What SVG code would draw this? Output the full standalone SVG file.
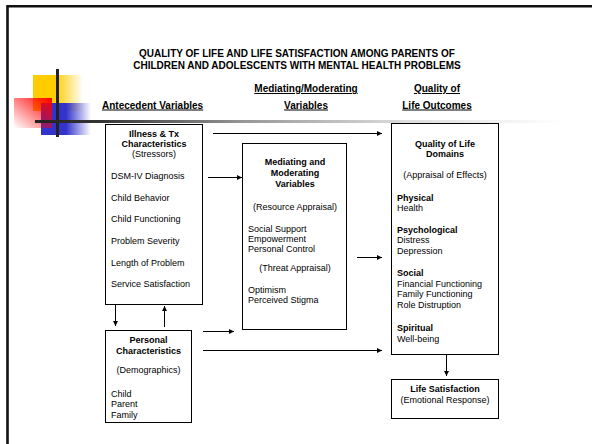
<svg xmlns="http://www.w3.org/2000/svg" width="592" height="444" viewBox="0 0 592 444">
<style>
text{font-family:"Liberation Sans",Arial,sans-serif;font-size:9px;fill:#000}
.b{font-weight:bold}
.c{text-anchor:middle}
.t{font-size:10px;font-weight:bold;text-anchor:middle}
.h{font-size:10px;font-weight:bold;text-decoration:underline}
.box{fill:#fff;stroke:#000;stroke-width:1}
.con line{stroke:#000;stroke-width:1;marker-end:url(#ah)}
</style>
<defs>
<marker id="ah" markerWidth="6" markerHeight="6" refX="5" refY="2.5" orient="auto" markerUnits="userSpaceOnUse">
<path d="M0,0 L5,2.5 L0,5 Z" fill="#000"/>
</marker>
<linearGradient id="gy" x1="0" y1="0" x2="1" y2="0">
<stop offset="0" stop-color="#FFCC00"/><stop offset="0.45" stop-color="#FFCC00"/><stop offset="1" stop-color="#FFCC00" stop-opacity="0"/>
</linearGradient>
<linearGradient id="gr" x1="1" y1="0" x2="0" y2="1">
<stop offset="0" stop-color="#FF0000"/><stop offset="1" stop-color="#FF0000" stop-opacity="0"/>
</linearGradient>
<linearGradient id="gb" x1="0" y1="0" x2="1" y2="0">
<stop offset="0" stop-color="#3333CC"/><stop offset="0.5" stop-color="#3333CC"/><stop offset="1" stop-color="#3333CC" stop-opacity="0"/>
</linearGradient>
<linearGradient id="gl" gradientUnits="userSpaceOnUse" x1="35" y1="0" x2="565" y2="0">
<stop offset="0" stop-color="#222"/><stop offset="0.12" stop-color="#333"/><stop offset="0.4" stop-color="#999"/><stop offset="0.7" stop-color="#ddd"/><stop offset="1" stop-color="#fff"/>
</linearGradient>
</defs>
<rect width="592" height="444" fill="#fff"/>
<path d="M7.5,444 V6.2 H592" fill="none" stroke="#111" stroke-width="2.6"/>
<g id="decoration">
<rect x="33" y="75" width="50" height="36" fill="url(#gy)"/>
<rect x="41" y="103" width="50" height="32" fill="url(#gb)"/>
<rect x="14" y="98" width="38" height="30" fill="url(#gr)"/>
<rect x="56" y="69" width="3" height="68" fill="#222"/>
<rect x="35" y="120" width="530" height="3" fill="url(#gl)"/>
</g>
<g id="title">
<text class="t" x="297" y="57">QUALITY OF LIFE AND LIFE SATISFACTION AMONG PARENTS OF</text>
<text class="t" x="297" y="69">CHILDREN AND ADOLESCENTS WITH MENTAL HEALTH PROBLEMS</text>
</g>
<g id="headings">
<text class="h" x="102" y="108.5">Antecedent Variables</text>
<text class="h c" x="306" y="92">Mediating/Moderating</text>
<text class="h c" x="306" y="108.5">Variables</text>
<text class="h c" x="437" y="92">Quality of</text>
<text class="h c" x="437" y="108.5">Life Outcomes</text>
</g>
<g id="illness">
<rect class="box" x="105.5" y="124.5" width="97" height="180"/>
<text class="b c" x="154" y="137">Illness &amp; Tx</text>
<text class="b c" x="154" y="147">Characteristics</text>
<text class="c" x="154" y="157">(Stressors)</text>
<text x="111" y="179">DSM-IV Diagnosis</text>
<text x="111" y="201">Child Behavior</text>
<text x="111" y="222">Child Functioning</text>
<text x="111" y="244">Problem Severity</text>
<text x="111" y="266">Length of Problem</text>
<text x="111" y="287">Service Satisfaction</text>
</g>
<g id="mediating">
<rect class="box" x="242.5" y="143.5" width="104" height="186"/>
<text class="b c" x="295" y="165">Mediating and</text>
<text class="b c" x="295" y="176">Moderating</text>
<text class="b c" x="295" y="187">Variables</text>
<text class="c" x="295" y="210">(Resource Appraisal)</text>
<text x="248" y="232">Social Support</text>
<text x="248" y="242">Empowerment</text>
<text x="248" y="251.5">Personal Control</text>
<text class="c" x="295" y="271">(Threat Appraisal)</text>
<text x="248" y="293">Optimism</text>
<text x="248" y="303">Perceived Stigma</text>
</g>
<g id="qol">
<rect class="box" x="391.5" y="123.5" width="107" height="231"/>
<text class="b c" x="445" y="147">Quality of Life</text>
<text class="b c" x="445" y="157">Domains</text>
<text class="c" x="445" y="178">(Appraisal of Effects)</text>
<text class="b" x="397" y="201">Physical</text>
<text x="397" y="211">Health</text>
<text class="b" x="397" y="233">Psychological</text>
<text x="397" y="243">Distress</text>
<text x="397" y="254">Depression</text>
<text class="b" x="397" y="276">Social</text>
<text x="397" y="287">Financial Functioning</text>
<text x="397" y="297">Family Functioning</text>
<text x="397" y="308">Role Distruption</text>
<text class="b" x="397" y="331">Spiritual</text>
<text x="397" y="342">Well-being</text>
</g>
<g id="personal">
<rect class="box" x="105.5" y="330.5" width="86" height="92"/>
<text class="b c" x="148.5" y="343">Personal</text>
<text class="b c" x="148.5" y="354">Characteristics</text>
<text class="c" x="148.5" y="373">(Demographics)</text>
<text x="111" y="397">Child</text>
<text x="111" y="407">Parent</text>
<text x="111" y="418">Family</text>
</g>
<g id="lifesat">
<rect class="box" x="391.5" y="379.5" width="107" height="39"/>
<text class="b c" x="445" y="392">Life Satisfaction</text>
<text class="c" x="445" y="403">(Emotional Response)</text>
</g>
<g id="connectors" class="con">
<line x1="213" y1="133.5" x2="382" y2="133.5"/>
<line x1="208" y1="177.5" x2="242" y2="177.5"/>
<line x1="357" y1="257.5" x2="382" y2="257.5"/>
<line x1="115.5" y1="305" x2="115.5" y2="326"/>
<line x1="164.5" y1="327" x2="164.5" y2="306"/>
<line x1="203" y1="331.5" x2="234" y2="331.5"/>
<line x1="203" y1="350.5" x2="382" y2="350.5"/>
<line x1="446.5" y1="355" x2="446.5" y2="376"/>
</g>
</svg>
